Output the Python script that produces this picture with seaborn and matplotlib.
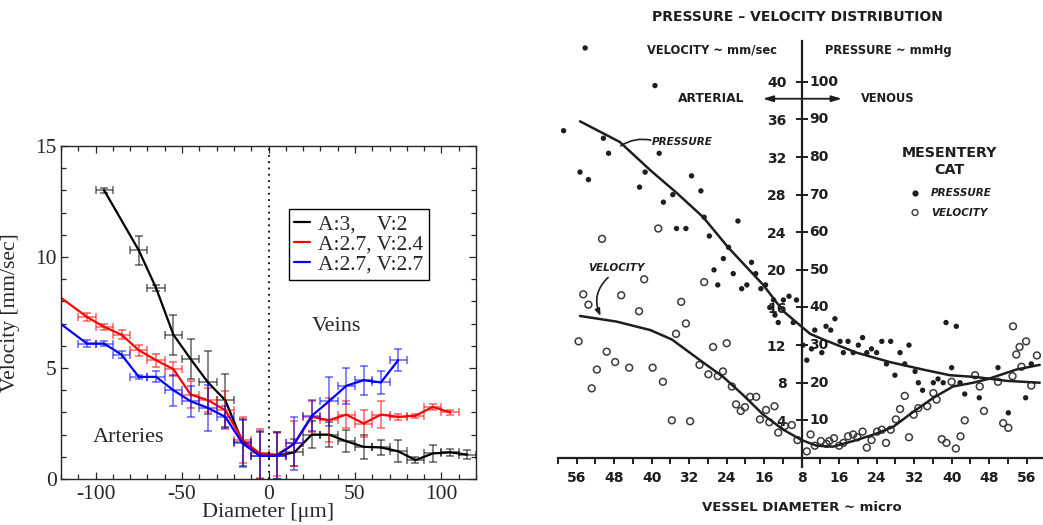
import numpy as np
import matplotlib
matplotlib.use("Agg")
import matplotlib.pyplot as plt
import seaborn as sns
from matplotlib.ticker import MultipleLocator

# --- left panel: velocity vs diameter, three parameter sets ---
diam_black = [-95, -75, -65, -55, -45, -35, -25, -15, -5, 5, 15, 25, 35, 45, 55, 65, 75, 85, 95, 105, 115]
vel_black = [13.0, 10.3, 8.6, 6.5, 5.4, 4.35, 3.55, 1.65, 1.05, 1.05, 1.2, 2.0, 2.0, 1.7, 1.45, 1.42, 1.25, 0.85, 1.15, 1.2, 1.1]
err_black = [0.1, 0.65, 0.15, 0.9, 0.9, 1.4, 1.2, 1.05, 1.05, 1.05, 0.6, 0.6, 0.55, 0.5, 0.55, 0.35, 0.5, 0.15, 0.4, 0.15, 0.2]

diam_red = [-125, -105, -95, -85, -75, -65, -55, -45, -35, -25, -15, -5, 5, 15, 25, 35, 45, 55, 65, 75, 85, 95, 105]
vel_red = [8.45, 7.3, 6.85, 6.5, 5.8, 5.35, 4.95, 3.8, 3.55, 3.1, 1.75, 1.15, 1.1, 1.6, 2.8, 2.65, 2.9, 2.5, 2.9, 2.8, 2.85, 3.25, 3.0]
err_red = [np.nan, 0.2, 0.15, 0.2, 0.25, 0.3, 0.3, 0.6, 0.55, 0.85, 1.05, 1.1, 0.95, 1.0, 0.7, 1.0, 0.6, 0.6, 0.6, 0.15, 0.1, 0.15, 0.1]

diam_blue = [-125, -105, -95, -85, -75, -65, -55, -45, -35, -25, -15, -5, 5, 15, 25, 35, 45, 55, 65, 75]
vel_blue = [7.27, 6.1, 6.1, 5.6, 4.6, 4.6, 4.0, 3.5, 3.2, 2.8, 1.6, 1.05, 1.05, 1.6, 2.85, 3.5, 4.2, 4.45, 4.35, 5.35]
err_blue = [np.nan, 0.15, 0.1, 0.15, 0.1, 0.25, 0.7, 0.7, 1.05, 0.5, 1.05, 1.1, 1.05, 1.2, 0.7, 1.1, 0.8, 0.65, 0.5, 0.5]

diam_halfwidth = 5

# --- right panel: scanned pressure-velocity distribution ---
# horizontal position: signed offset from the 8 micron centre (arterial < 0)
pv_ticks = [-48, -40, -32, -24, -16, -8, 0, 8, 16, 24, 32, 40, 48]
pv_tick_labels = ["56", "48", "40", "32", "24", "16", "8", "16", "24", "32", "40", "48", "56"]
vel_ticks = [4, 8, 12, 16, 20, 24, 28, 32, 36, 40]
press_ticks = [10, 20, 30, 40, 50, 60, 70, 80, 90, 100]

press_pos = [-46.2, -31.3, -50.8, -42.3, -41.2, -30.4, -47.3, -45.5, -33.4, -23.5, -34.6, -21.5, -27.5,
             -29.5, -20.8, -26.7, -24.7, -19.7, -13.6, -15.6, -16.7, -18.7, -10.7, -14.6, -17.9, -11.7,
             -12.8, -9.8, -8.7, -7.7, -6.8, -6.0, -3.9, -2.7, -1.1, -5.7, -5.0, -1.8, 0.3, 1.1, 2.1, 2.8,
             4.3, 5.2, 6.2, 7.1, 8.2, 8.9, 9.9, 11.0, 12.1, 13.0, 13.9, 14.9, 16.0, 17.1, 18.1, 19.0, 19.9,
             21.0, 22.0, 22.9, 24.2, 24.9, 25.8, 28.1, 29.1, 30.2, 30.8, 32.0, 33.0, 33.8, 34.8, 37.9,
             41.9, 44.1, 47.8, 49.0]
press_mmhg = [109, 99, 87, 85, 81, 81, 76, 74, 76, 75, 72, 71, 70, 68, 64, 61, 61, 59, 63, 56, 53, 50, 52,
              49, 46, 46, 45, 49, 45, 46, 40, 42, 42, 43, 42, 38, 36, 36, 30, 26, 29, 34, 28, 35, 34, 37, 31,
              28, 31, 28, 30, 32, 28, 29, 28, 31, 25, 31, 22, 28, 25, 30, 23, 20, 18, 20, 21, 20, 36, 24, 35,
              20, 17, 16, 24, 12, 16, 25]

velo_pos = [-42.6, -30.6, -33.6, -20.8, -46.6, -38.5, -45.5, -25.7, -34.7, -24.7, -47.6, -26.8, -18.9,
            -16.0, -41.6, -43.7, -44.8, -39.8, -36.8, -31.8, -29.6, -27.7, -23.8, -21.8, -19.9, -17.9,
            -16.8, -14.9, -14.0, -13.0, -12.1, -11.0, -9.7, -8.9, -7.6, -6.9, -5.8, -5.0, -3.6, -2.1, -0.9,
            1.1, 1.9, 2.8, 4.1, 5.3, 5.9, 6.9, 8.0, 8.9, 9.9, 11.0, 11.9, 13.0, 13.9, 14.9, 16.1, 17.1, 18.0,
            19.0, 20.1, 21.0, 22.0, 22.9, 23.9, 24.9, 26.8, 28.1, 28.8, 29.9, 30.9, 32.0, 32.9, 33.9, 34.8,
            37.0, 38.0, 38.9, 41.9, 43.0, 44.1, 45.0, 46.9, 49.0, 50.2, 45.8, 46.5, 47.9, 45.1]
velo_mms = [23.3, 24.4, 19.0, 18.7, 17.4, 17.3, 16.3, 16.6, 15.6, 14.3, 12.4, 13.2, 11.8, 12.2, 11.3, 9.4,
            7.4, 10.2, 9.6, 9.6, 8.1, 4.0, 3.9, 9.9, 8.9, 8.7, 9.2, 7.6, 5.7, 5.0, 5.4, 6.5, 6.5, 4.1, 5.1,
            3.8, 5.5, 2.7, 3.4, 3.5, 1.9, 0.7, 2.5, 1.3, 1.8, 1.5, 1.8, 2.1, 1.3, 1.6, 2.3, 2.5, 2.2, 2.8,
            1.1, 1.9, 2.8, 3.0, 1.6, 3.0, 4.1, 5.2, 6.6, 2.2, 4.6, 5.3, 5.5, 6.9, 6.2, 2.0, 1.6, 8.1, 1.0,
            2.3, 4.0, 8.8, 7.6, 5.0, 8.1, 3.7, 3.2, 8.7, 9.7, 7.7, 10.9, 11.0, 11.8, 12.4, 14.0]

press_curve_pos = [-47.3, -38.8, -32.3, -26.7, -21.0, -15.7, -8.2, -3.9, 1.8, 4.6, 11.7, 18.8, 25.9, 31.6, 37.3, 43.7, 50.8]
press_curve_mmhg = [89.5, 84, 76.5, 70.5, 64, 56, 46, 39, 33, 31.5, 28, 25.5, 23.5, 22, 21.5, 20.5, 20]

velo_curve_pos = [-47.3, -39.5, -32.3, -27.7, -21.7, -16.7, -12.5, -8.2, -3.9, 0, 3.2, 6.7, 11.7, 16, 19.5,
                  23.8, 28.1, 32.3, 36.6, 39.8, 45.8, 50.8]
velo_curve_mms = [15.1, 14.5, 13.6, 12.6, 10.4, 8.6, 6.7, 4.6, 3.0, 1.9, 1.3, 1.2, 1.9, 2.6, 3.3, 4.9, 6.4,
                  7.6, 8.0, 8.4, 9.4, 9.9]

MMHG_PER_MMS = 2.5  # 100 mmHg sits at 40 mm/sec on the shared axis

sns.set_style("ticks")
plt.rcParams['font.family'] = ['Liberation Serif', 'DejaVu Serif']
plt.rcParams['axes.unicode_minus'] = False

fig = plt.figure(figsize=(10.43, 5.25), dpi=100)

# ================= left panel =================
ax = fig.add_axes([61 / 1043, 46 / 525, 415 / 1043, 333 / 525])

series = [
    (diam_black, vel_black, err_black, "black", "A:3,    V:2"),
    (diam_red, vel_red, err_red, "#ff0000", "A:2.7, V:2.4"),
    (diam_blue, vel_blue, err_blue, "#0000ff", "A:2.7, V:2.7"),
]
for xs, ys, es, col, lab in series:
    xs = np.array(xs, float)
    ys = np.array(ys, float)
    es = np.array(es, float)
    ok = ~np.isnan(es)
    ax.errorbar(xs[ok], ys[ok], xerr=diam_halfwidth, yerr=es[ok], fmt='none',
                ecolor=col, alpha=0.6, elinewidth=1.1, capsize=3, capthick=1.1)
    sns.lineplot(x=xs, y=ys, ax=ax, color=col, lw=1.6, sort=False,
                 estimator=None, label=lab)

ax.axvline(0, color="black", ls=(0, (1, 2.5)), lw=1.3)

ax.set_xlim(-120, 120)
ax.set_ylim(0, 15)
ax.xaxis.set_major_locator(MultipleLocator(50))
ax.xaxis.set_minor_locator(MultipleLocator(10))
ax.yaxis.set_major_locator(MultipleLocator(5))
ax.yaxis.set_minor_locator(MultipleLocator(1))
ax.tick_params(which='both', direction='in', top=True, right=True, labelsize=15.5, width=0.9)
ax.tick_params(which='major', length=5)
ax.tick_params(which='minor', length=3.3)
ax.tick_params(axis='x', pad=4)
ax.tick_params(axis='y', pad=3)
for sp in ax.spines.values():
    sp.set_linewidth(1.0)

ax.set_xlabel("Diameter [μm]", fontsize=16)
ax.set_ylabel("Velocity [mm/sec]", fontsize=15.5)
ax.xaxis.set_label_coords(0.5, -0.072)
ax.yaxis.set_label_coords(-0.098, 0.5)

ax.text(-81, 1.85, "Arteries", fontsize=16, ha='center', va='center')
ax.text(39.5, 6.85, "Veins", fontsize=16, ha='center', va='center')

leg = ax.legend(loc='upper left', bbox_to_anchor=(0.549, 0.811), fontsize=15.5,
                frameon=True, fancybox=False, edgecolor='black', framealpha=1,
                handlelength=0.75, handletextpad=0.35, labelspacing=0.0,
                borderpad=0.25, borderaxespad=0)
leg.get_frame().set_linewidth(1.0)

# ================= right panel (scanned figure) =================
ink = "#1e1e1e"
sans = ['DejaVu Sans']
ax2 = fig.add_axes([550 / 1043, 0, 493 / 1043, 1])
ax2.set_xlim(-53.7, 51.5)
ax2.set_ylim(-7.13, 48.7)
ax2.patch.set_alpha(0)
for sp in ['top', 'right']:
    ax2.spines[sp].set_visible(False)
ax2.spines['left'].set_position(('data', 0))
ax2.spines['bottom'].set_position(('data', 0))
ax2.spines['left'].set_bounds(-1, 44.3)
ax2.spines['bottom'].set_bounds(-52, 51.5)
for sp in ['left', 'bottom']:
    ax2.spines[sp].set_linewidth(1.6)
    ax2.spines[sp].set_color(ink)

ax2.set_xticks(pv_ticks)
ax2.set_xticklabels(pv_tick_labels)
ax2.xaxis.set_minor_locator(MultipleLocator(4))
ax2.set_yticks(vel_ticks)
ax2.set_yticklabels([str(v) for v in vel_ticks])
ax2.tick_params(axis='x', which='both', direction='out', length=4.5, width=1.4, color=ink,
                pad=5, labelsize=10, labelcolor=ink)
ax2.tick_params(axis='y', which='both', direction='inout', length=9, width=1.4, color=ink,
                pad=6.5, labelsize=10, labelcolor=ink)
for lab in ax2.get_xticklabels() + ax2.get_yticklabels():
    lab.set_family(sans)
    lab.set_fontweight('bold')

for p in press_ticks:
    ax2.text(1.7, p / MMHG_PER_MMS, str(p), ha='left', va='center', fontsize=10,
             family=sans, fontweight='bold', color=ink)

# curves
sns.lineplot(x=press_curve_pos, y=np.array(press_curve_mmhg) / MMHG_PER_MMS, ax=ax2,
             color=ink, lw=1.8, sort=False, estimator=None)
sns.lineplot(x=velo_curve_pos, y=velo_curve_mms, ax=ax2,
             color=ink, lw=1.8, sort=False, estimator=None)

# points
sns.scatterplot(x=press_pos, y=np.array(press_mmhg) / MMHG_PER_MMS, ax=ax2,
                color=ink, s=15, edgecolor='none')
sns.scatterplot(x=velo_pos, y=velo_mms, ax=ax2, facecolor='none',
                edgecolor="#3a3a3a", s=24, linewidth=1.1)

# texts
ax2.text(-1.0, 46.9, "PRESSURE \u2013 VELOCITY DISTRIBUTION", ha='center', va='center',
         fontsize=10, family=sans, fontweight='bold', color=ink)
ax2.text(-19.1, 43.4, "VELOCITY ~ mm/sec", ha='center', va='center', fontsize=8.3,
         family=sans, fontweight='bold', color=ink)
ax2.text(18.4, 43.3, "PRESSURE ~ mmHg", ha='center', va='center', fontsize=8.3,
         family=sans, fontweight='bold', color=ink)
ax2.text(-19.4, 38.2, "ARTERIAL", ha='center', va='center', fontsize=8.8,
         family=sans, fontweight='bold', color=ink)
ax2.text(18.3, 38.2, "VENOUS", ha='center', va='center', fontsize=8.3,
         family=sans, fontweight='bold', color=ink)
ax2.annotate("", xy=(-8.3, 38.2), xytext=(8.6, 38.2),
             arrowprops=dict(arrowstyle='<|-|>,head_length=0.6,head_width=0.18',
                             color=ink, lw=1.3, shrinkA=0, shrinkB=0))
ax2.text(31.6, 32.4, "MESENTERY", ha='center', va='center', fontsize=10.3,
         family=sans, fontweight='bold', color=ink)
ax2.text(31.6, 30.6, "CAT", ha='center', va='center', fontsize=10.3,
         family=sans, fontweight='bold', color=ink)

ax2.scatter([24.2], [28.2], s=12, color=ink)
ax2.scatter([24.2], [26.1], s=18, facecolor='none', edgecolor="#3a3a3a", linewidth=1.0)
ax2.text(27.6, 28.2, "PRESSURE", ha='left', va='center', fontsize=7.5,
         family=sans, fontweight='bold', style='italic', color=ink)
ax2.text(27.6, 26.1, "VELOCITY", ha='left', va='center', fontsize=7.5,
         family=sans, fontweight='bold', style='italic', color=ink)

ax2.text(-25.4, 33.6, "PRESSURE", ha='center', va='center', fontsize=7.5,
         family=sans, fontweight='bold', style='italic', color=ink)
ax2.annotate("", xy=(-38.6, 33.2), xytext=(-32.2, 33.8),
             arrowprops=dict(arrowstyle='-', color=ink, lw=1.2,
                             connectionstyle='arc3,rad=0.2', shrinkA=0, shrinkB=0))
ax2.text(-39.5, 20.2, "VELOCITY", ha='center', va='center', fontsize=7.5,
         family=sans, fontweight='bold', style='italic', color=ink)
ax2.annotate("", xy=(-42.9, 15.1), xytext=(-41.3, 19.2),
             arrowprops=dict(arrowstyle='-|>,head_length=0.4,head_width=0.15', color=ink,
                             lw=1.2, connectionstyle='arc3,rad=0.35', shrinkA=0, shrinkB=0))

ax2.text(0, -5.3, "VESSEL DIAMETER ~ micro", ha='center', va='center', fontsize=9.5,
         family=sans, fontweight='bold', color=ink)

fig.savefig("out.png", dpi=100)
